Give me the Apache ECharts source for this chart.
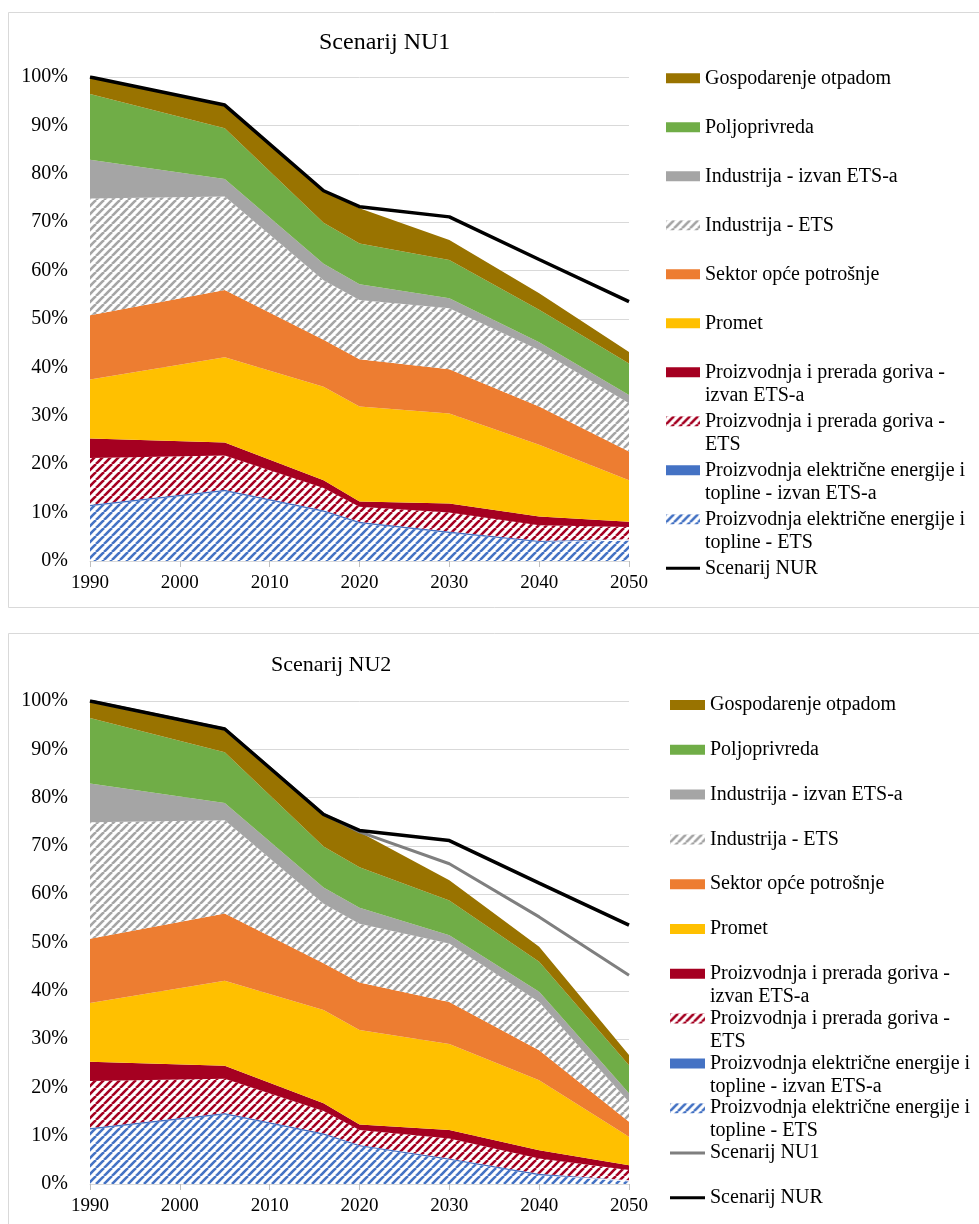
<!DOCTYPE html>
<html>
<head>
<meta charset="utf-8">
<script src="https://cdn.jsdelivr.net/npm/echarts@6/dist/echarts.min.js"></script>
<style>
  html, body { margin: 0; padding: 0; background: #fff; }
  #main { width: 979px; height: 1224px; }
</style>
</head>
<body>
<div id="main"></div>
<script>
// godine
var years = [1990, 2005, 2016, 2020, 2030, 2040, 2050];
var yTicks = [0, 10, 20, 30, 40, 50, 60, 70, 80, 90, 100];

// Scenarij NU1 (udjeli u %, po sektorima, odozdo prema gore)
var elETS1  = [11.3, 14.4, 10.2, 7.8, 5.8, 3.9, 4.2];
var elNon1  = [0.3, 0.3, 0.3, 0.3, 0.3, 0.3, 0.3];
var gorETS1 = [9.7, 7.1, 4.6, 3.1, 3.9, 3.2, 2.5];
var gorNon1 = [4.0, 2.7, 1.6, 1.1, 1.9, 1.8, 1.1];
var promet1 = [12.2, 17.6, 19.3, 19.6, 18.6, 14.8, 8.6];
var sektor1 = [13.3, 13.9, 9.7, 9.8, 9.1, 7.9, 5.9];
var indETS1 = [24.1, 19.3, 12.3, 12.2, 12.6, 11.7, 10.0];
var indNon1 = [8.0, 3.6, 3.4, 3.3, 2.1, 1.6, 1.7];
var polj1   = [13.6, 10.5, 8.5, 8.4, 7.9, 6.7, 6.5];
var otpad1  = [3.5, 4.8, 6.7, 7.3, 4.1, 3.4, 2.4];

// Scenarij NU2
var elETS2  = [11.3, 14.4, 10.2, 7.8, 5.0, 1.8, 0.5];
var elNon2  = [0.3, 0.3, 0.3, 0.3, 0.3, 0.3, 0.3];
var gorETS2 = [9.7, 7.1, 4.6, 3.1, 4.1, 3.2, 2.1];
var gorNon2 = [4.0, 2.7, 1.6, 1.1, 1.8, 1.7, 1.0];
var promet2 = [12.2, 17.6, 19.3, 19.6, 17.8, 14.5, 5.9];
var sektor2 = [13.3, 13.9, 9.7, 9.8, 8.7, 6.2, 3.1];
var indETS2 = [24.1, 19.3, 12.3, 12.2, 12.1, 10.0, 4.1];
var indNon2 = [8.0, 3.6, 3.4, 3.3, 1.7, 2.1, 1.8];
var polj2   = [13.6, 10.5, 8.5, 8.4, 7.2, 6.2, 5.8];
var otpad2  = [3.5, 4.8, 6.7, 7.3, 4.2, 3.1, 2.1];

// linije scenarija
var nur = [100, 94.2, 76.5, 73.2, 71.1, 62.3, 53.6];
var nu1 = [100, 94.2, 76.6, 72.9, 66.3, 55.3, 43.2];

var N = {
  elETS: 'Proizvodnja električne energije i topline - ETS',
  elNon: 'Proizvodnja električne energije i topline - izvan ETS-a',
  gorETS: 'Proizvodnja i prerada goriva - ETS',
  gorNon: 'Proizvodnja i prerada goriva - izvan ETS-a',
  promet: 'Promet',
  sektor: 'Sektor opće potrošnje',
  indETS: 'Industrija - ETS',
  indNon: 'Industrija - izvan ETS-a',
  polj: 'Poljoprivreda',
  otpad: 'Gospodarenje otpadom',
  nur: 'Scenarij NUR',
  nu1: 'Scenarij NU1'
};

// nazivi u dva retka u legendi
var wrapped = {};
wrapped[N.gorNon] = ['Proizvodnja i prerada goriva -', 'izvan ETS-a'];
wrapped[N.gorETS] = ['Proizvodnja i prerada goriva -', 'ETS'];
wrapped[N.elNon] = ['Proizvodnja električne energije i', 'topline - izvan ETS-a'];
wrapped[N.elETS] = ['Proizvodnja električne energije i', 'topline - ETS'];

var FONT = 'Liberation Serif';

function hatch(color) {
  var s = 8;
  var c = document.createElement('canvas');
  c.width = s; c.height = s;
  var g = c.getContext('2d');
  g.fillStyle = '#fff';
  g.fillRect(0, 0, s, s);
  g.strokeStyle = color;
  g.lineWidth = 2.6;
  [-s, 0, s].forEach(function(k) {
    g.beginPath();
    g.moveTo(k, s);
    g.lineTo(k + s, 0);
    g.stroke();
  });
  return { image: c, repeat: 'repeat' };
}

var colors = {
  elETS: hatch('#4472c4'),
  elNon: '#4472c4',
  gorETS: hatch('#a50021'),
  gorNon: '#a50021',
  promet: '#ffc000',
  sektor: '#ed7d31',
  indETS: hatch('#a5a5a5'),
  indNon: '#a5a5a5',
  polj: '#70ad47',
  otpad: '#997300'
};

// [vrijednost, godina] -> y se slaže (stack), x ostaje godina
function pairs(arr) {
  return years.map(function(y, i) { return [arr[i], y]; });
}

function area(key, arr, idx) {
  return {
    type: 'line',
    name: N[key],
    stack: 'p' + idx,
    xAxisIndex: idx,
    yAxisIndex: idx,
    data: pairs(arr),
    encode: { x: 1, y: 0 },
    symbol: 'none',
    color: colors[key],
    lineStyle: { width: 0 },
    areaStyle: { color: colors[key], opacity: 1 },
    silent: true,
    emphasis: { disabled: true },
    z: 2
  };
}

function line(name, arr, idx, color, width) {
  return {
    type: 'line',
    name: name,
    xAxisIndex: idx,
    yAxisIndex: idx,
    data: pairs(arr),
    encode: { x: 1, y: 0 },
    symbol: 'none',
    color: color,
    lineStyle: { color: color, width: width },
    silent: true,
    emphasis: { disabled: true },
    z: 5
  };
}

var order = ['elETS', 'elNon', 'gorETS', 'gorNon', 'promet', 'sektor', 'indETS', 'indNon', 'polj', 'otpad'];
var set1 = [elETS1, elNon1, gorETS1, gorNon1, promet1, sektor1, indETS1, indNon1, polj1, otpad1];
var set2 = [elETS2, elNon2, gorETS2, gorNon2, promet2, sektor2, indETS2, indNon2, polj2, otpad2];

var series = [];
order.forEach(function(k, i) { series.push(area(k, set1[i], 0)); });
series.push(line(N.nur, nur, 0, '#000', 3.5));
order.forEach(function(k, i) { series.push(area(k, set2[i], 1)); });
series.push(line(N.nu1, nu1, 1, '#7f7f7f', 3));
series.push(line(N.nur, nur, 1, '#000', 3.5));

var lineIcon = 'path://M0,0L40,0L40,3.5L0,3.5Z';
var legendAreas = order.slice().reverse().map(function(k) { return { name: N[k], icon: 'rect' }; });
var legend1 = legendAreas.concat([{ name: N.nur, icon: lineIcon }]);
var legend2 = legendAreas.concat([{ name: N.nu1, icon: lineIcon }, { name: N.nur, icon: lineIcon }]);

function legendFmt(name) {
  return wrapped[name] ? wrapped[name][0] : name;
}

function makeLegend(data, left, top, gap, w) {
  return {
    data: data,
    orient: 'vertical',
    left: left,
    top: top,
    itemWidth: w,
    itemHeight: 10,
    itemGap: gap,
    padding: 0,
    selectedMode: false,
    formatter: legendFmt,
    textStyle: { fontFamily: FONT, fontSize: 20, color: '#000', lineHeight: 22 }
  };
}

// drugi redak dugih naziva
function secondLines(x, firstY, pitch) {
  var keys = ['gorNon', 'gorETS', 'elNon', 'elETS'];
  return keys.map(function(k, i) {
    return {
      type: 'text',
      x: x,
      y: firstY + (6 + i) * pitch + 23,
      silent: true,
      style: { text: wrapped[N[k]][1], fontFamily: FONT, fontSize: 20, fill: '#000', verticalAlign: 'middle' }
    };
  });
}

function xAxis(idx) {
  return {
    type: 'value',
    gridIndex: idx,
    min: 1990,
    max: 2050,
    interval: 10,
    axisLine: { show: true, lineStyle: { color: '#d9d9d9', width: 1 } },
    axisTick: { show: true, length: 6, lineStyle: { color: '#bfbfbf' } },
    splitLine: { show: false },
    axisLabel: {
      fontFamily: FONT, fontSize: 19, color: '#000', margin: 13,
      formatter: function(v) { return String(v); }
    }
  };
}

function yAxis(idx) {
  return {
    type: 'value',
    gridIndex: idx,
    min: yTicks[0],
    max: yTicks[yTicks.length - 1],
    interval: 10,
    axisLine: { show: false },
    axisTick: { show: false },
    splitLine: { lineStyle: { color: '#d9d9d9', width: 1 } },
    axisLabel: { fontFamily: FONT, fontSize: 20, color: '#000', margin: 22, formatter: '{value}%' }
  };
}

var chart = echarts.init(document.getElementById('main'), null, { renderer: 'canvas' });
chart.setOption({
  animation: false,
  backgroundColor: '#fff',
  title: [
    { text: 'Scenarij NU1', left: 319, top: 31, padding: 0, textStyle: { fontFamily: FONT, fontSize: 24, fontWeight: 'normal', color: '#000' } },
    { text: 'Scenarij NU2', left: 271, top: 654, padding: 0, textStyle: { fontFamily: FONT, fontSize: 22, fontWeight: 'normal', color: '#000' } }
  ],
  grid: [
    { left: 90, top: 77, width: 539, height: 484 },
    { left: 90, top: 701, width: 539, height: 483 }
  ],
  xAxis: [xAxis(0), xAxis(1)],
  yAxis: [yAxis(0), yAxis(1)],
  legend: [
    makeLegend(legend1, 666, 67.3, 27, 34),
    makeLegend(legend2, 670, 694, 22.8, 35)
  ],
  graphic: [
    { type: 'rect', silent: true, shape: { x: 8.5, y: 12.5, width: 985, height: 595 }, style: { fill: 'none', stroke: '#d9d9d9', lineWidth: 1 } },
    { type: 'rect', silent: true, shape: { x: 8.5, y: 633.5, width: 985, height: 600 }, style: { fill: 'none', stroke: '#d9d9d9', lineWidth: 1 } }
  ].concat(secondLines(705, 78.3, 49)).concat(secondLines(710, 705, 44.8)),
  series: series
});
</script>
</body>
</html>
